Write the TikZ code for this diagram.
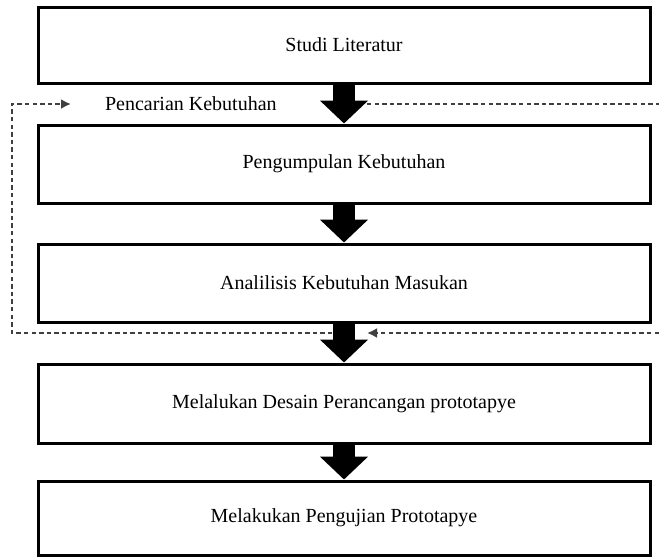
\documentclass[tikz,border=0pt]{standalone}
\usepackage{fontspec}
\setmainfont{Liberation Serif}
\usetikzlibrary{arrows.meta}
\begin{document}
\begin{tikzpicture}[x=.5pt,y=-.5pt,
  box/.style={draw,line width=1.5pt,minimum width=306pt,font=\fontsize{10}{12}\selectfont},
  flow/.style={line width=11pt,-{Triangle[width=23.5pt,length=11.5pt]}},
  loopline/.style={draw=black!75,line width=1pt,dash pattern=on 2.2pt off 1.6pt},
  looptip/.style={-{Latex[length=5pt,width=5pt]}}]
\useasboundingbox (0,0) rectangle (659,558);
\coordinate (ptopR) at (659,104);
\coordinate (ptopA) at (367,104);
\coordinate (pbotR) at (659,333);
\coordinate (pbotA) at (367,333);
\coordinate (pbotM) at (340,333);
\coordinate (pbotL) at (12,333);
\coordinate (ptopL) at (12,104);
\coordinate (ptopT) at (71,104);
\draw[loopline] (ptopA) -- (ptopR);
\draw[loopline,looptip] (pbotR) -- (pbotA);
\draw[loopline,looptip] (pbotM) -- (pbotL) -- (ptopL) -- (ptopT);
\node[anchor=west,font=\fontsize{10}{12}\selectfont] (pencarian) at (98,104) {Pencarian Kebutuhan};
\node[box,minimum height=38pt] (studi) at (344,45) {Studi Literatur};
\node[box,minimum height=39pt] (kumpul) at (344,164) {Pengumpulan Kebutuhan};
\node[box,minimum height=39pt] (analisis) at (344,283) {Analilisis Kebutuhan Masukan};
\node[box,minimum height=39.5pt] (desain) at (344,403.5) {Melalukan Desain Perancangan prototapye};
\node[box,minimum height=37pt] (uji) at (344,518) {Melakukan Pengujian Prototapye};
\draw[flow] (studi.south) -- (kumpul.north);
\draw[flow] (kumpul.south) -- (analisis.north);
\draw[flow] (analisis.south) -- (desain.north);
\draw[flow] (desain.south) -- (uji.north);
\end{tikzpicture}
\end{document}
